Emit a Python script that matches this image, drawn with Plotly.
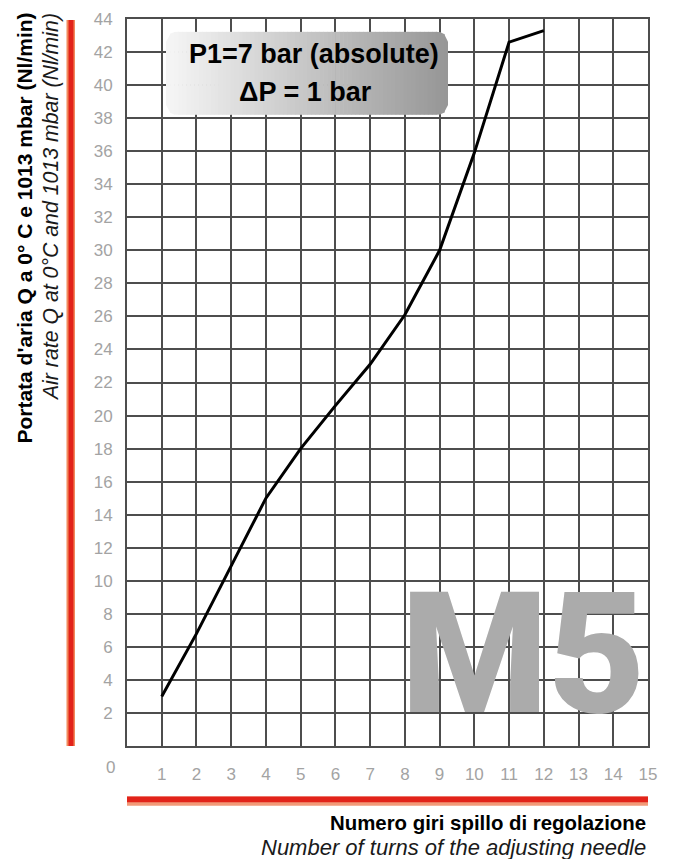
import math
import plotly.graph_objects as go

# ---- data ----
turns = [1, 2, 3, 4, 5, 6, 7, 8, 9, 10, 11, 12]
flow = [3.0, 6.8, 10.9, 15.0, 18.0, 20.6, 23.1, 26.1, 30.0, 35.9, 42.6, 43.3]
x_ticks = list(range(1, 16))
y_ticks = list(range(2, 45, 2))
y_title_it = "Portata d'aria Q a 0° C e 1013 mbar (Nl/min)"
y_title_en = "Air rate Q at 0°C and 1013 mbar (Nl/min)"
x_title_it = "Numero giri spillo di regolazione"
x_title_en = "Number of turns of the adjusting needle"
box_line1 = "P1=7 bar (absolute)"
box_line2 = "ΔP = 1 bar"
model = "M5"

W, H = 676, 859
L, R, T, B = 127, 28, 10, 113
PW, PH = W - L - R, H - T - B


def px(x):
    return (x - L) / PW


def py(y):
    return (H - B - y) / PH


FONT = "Liberation Sans, Arial, Helvetica, sans-serif"
GRID = "#4d4d4d"
TICKC = "#a3a3a3"

fig = go.Figure()
fig.add_trace(go.Scatter(x=turns, y=flow, mode="lines",
                         line=dict(color="black", width=3),
                         hoverinfo="x+y", showlegend=False))

shapes = []
# red accent bars
shapes.append(dict(type="rect", xref="paper", yref="paper",
                   x0=px(66.5), x1=px(75), y0=py(746), y1=py(11),
                   fillcolor="#f28a5c", line=dict(width=0), layer="above"))
shapes.append(dict(type="rect", xref="paper", yref="paper",
                   x0=px(68.5), x1=px(73.5), y0=py(746), y1=py(11),
                   fillcolor="#e2231a", line=dict(width=0), layer="above"))
shapes.append(dict(type="rect", xref="paper", yref="paper",
                   x0=px(127), x1=px(648), y0=py(806.5), y1=py(797),
                   fillcolor="#f29a78", line=dict(width=0), layer="above"))
shapes.append(dict(type="rect", xref="paper", yref="paper",
                   x0=px(127), x1=px(648), y0=py(803), y1=py(797),
                   fillcolor="#e2231a", line=dict(width=0), layer="above"))

# rounded gradient box (built from strips)
bx0, bx1, by0, by1, rad = 166, 448, 23, 107, 10
N = 70
c0 = (246, 246, 246)
c1 = (150, 150, 150)


def inset(x):
    d = min(x - bx0, bx1 - x)
    if d >= rad:
        return 0.0
    d = max(d, 0.0)
    return rad - math.sqrt(max(rad * rad - (rad - d) ** 2, 0.0))


for i in range(N):
    a = bx0 + (bx1 - bx0) * i / N
    b = bx0 + (bx1 - bx0) * (i + 1) / N
    b2 = min(b + 0.6, bx1)
    t = (i + 0.5) / N
    col = tuple(int(round(c0[k] + (c1[k] - c0[k]) * t)) for k in range(3))
    pts = [(a, by0 + inset(a)), (b2, by0 + inset(b2)),
           (b2, by1 - inset(b2)), (a, by1 - inset(a))]
    path = "M " + " L ".join(f"{px(X):.5f},{py(Y):.5f}" for X, Y in pts) + " Z"
    shapes.append(dict(type="path", xref="paper", yref="paper", path=path,
                       fillcolor="rgb(%d,%d,%d)" % col, line=dict(width=0),
                       layer="above"))

annotations = [
    dict(text=box_line1, x=px(314), y=py(45), xref="paper", yref="paper",
         showarrow=False, xanchor="center", yanchor="middle",
         font=dict(family=FONT, size=27, color="black", weight="bold")),
    dict(text=box_line2, x=px(305), y=py(84), xref="paper", yref="paper",
         showarrow=False, xanchor="center", yanchor="middle",
         font=dict(family=FONT, size=27, color="black", weight="bold")),
    dict(text=model, x=px(523), y=py(653), xref="paper", yref="paper",
         showarrow=False, xanchor="center", yanchor="middle",
         font=dict(family="Roboto, Liberation Sans, sans-serif", size=168,
                   color="#ababab", weight=900)),
    dict(text="0", x=px(110), y=py(768), xref="paper", yref="paper",
         showarrow=False, xanchor="center", yanchor="middle",
         font=dict(family=FONT, size=17, color=TICKC)),
    dict(text=y_title_it, x=px(25), y=py(2), xref="paper", yref="paper",
         showarrow=False, xanchor="center", yanchor="top", textangle=-90,
         font=dict(family=FONT, size=21, color="black", weight="bold")),
    dict(text=y_title_en, x=px(51), y=py(2), xref="paper", yref="paper",
         showarrow=False, xanchor="center", yanchor="top", textangle=-90,
         font=dict(family=FONT, size=21.3, color="#1a1a1a", style="italic")),
    dict(text=x_title_it, x=px(648), y=py(824), xref="paper", yref="paper",
         showarrow=False, xanchor="right", yanchor="middle",
         font=dict(family=FONT, size=20.4, color="black", weight="bold")),
    dict(text=x_title_en, x=px(648), y=py(849), xref="paper", yref="paper",
         showarrow=False, xanchor="right", yanchor="middle",
         font=dict(family=FONT, size=22, color="#1a1a1a", style="italic")),
]

fig.update_layout(
    width=W, height=H,
    margin=dict(l=L, r=R, t=T, b=B, pad=0),
    paper_bgcolor="white", plot_bgcolor="white",
    shapes=shapes, annotations=annotations,
    xaxis=dict(range=[0, 15], tickvals=x_ticks, ticktext=[str(v) for v in x_ticks],
               showgrid=True, gridcolor=GRID, gridwidth=1.5,
               showline=True, linecolor=GRID, linewidth=2, mirror=True,
               zeroline=False, ticks="", ticklabelstandoff=12,
               tickfont=dict(family=FONT, size=17, color=TICKC), fixedrange=True),
    yaxis=dict(range=[0, 44], tickvals=y_ticks, ticktext=[str(v) for v in y_ticks],
               showgrid=True, gridcolor=GRID, gridwidth=1.5,
               showline=True, linecolor=GRID, linewidth=2, mirror=True,
               zeroline=False, ticks="", ticklabelstandoff=9,
               tickfont=dict(family=FONT, size=17, color=TICKC), fixedrange=True),
)

fig.write_html("out.html", config={"displayModeBar": False},
               post_script="document.body.style.margin='0';document.body.style.overflow='hidden';")
